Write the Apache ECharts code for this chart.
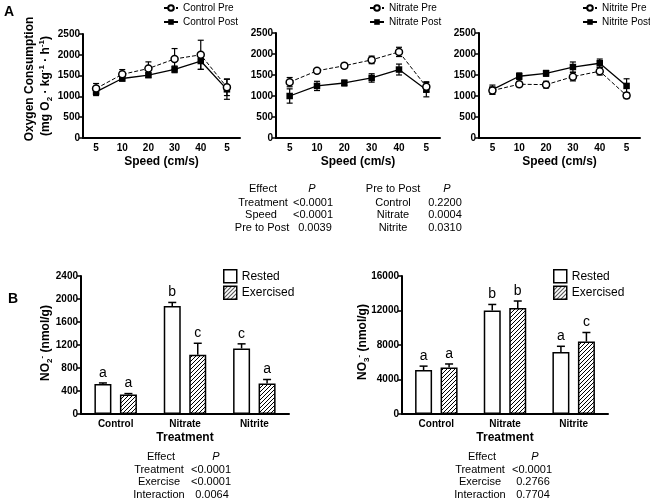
<!DOCTYPE html>
<html><head><meta charset="utf-8">
<script src="https://cdn.jsdelivr.net/npm/echarts@6/dist/echarts.min.js"></script>
<style>html,body{margin:0;padding:0;background:#fff}#c{width:650px;height:501px}</style>
</head><body><div id="c"></div>
<script>
// ---------- DATA ----------
const speeds = ['5','10','20','30','40','5'];
const controlPre = [1190, 1530, 1670, 1900, 2000, 1220];
const controlPreErr = [120, 115, 160, 250, 350, 200];
const controlPost = [1110, 1430, 1510, 1650, 1850, 1170];
const controlPostErr = [90, 60, 50, 80, 200, 240];
const nitratePre = [1330, 1600, 1720, 1860, 2050, 1220];
const nitratePreErr = [110, 40, 60, 90, 110, 120];
const nitratePost = [1000, 1240, 1310, 1430, 1630, 1150];
const nitratePostErr = [170, 110, 70, 100, 130, 170];
const nitritePre = [1130, 1280, 1270, 1460, 1590, 1010];
const nitritePreErr = [80, 60, 80, 100, 90, 70];
const nitritePost = [1150, 1470, 1540, 1690, 1780, 1240];
const nitritePostErr = [110, 80, 70, 120, 100, 170];
const o2Ticks = {min: 0, max: 2500, interval: 500};

const treatments = ['Control', 'Nitrate', 'Nitrite'];
const no2Rested = [520, 1880, 1140];
const no2RestedErr = [20, 60, 80];
const no2Exercised = [340, 1030, 530];
const no2ExercisedErr = [15, 200, 70];
const no2RestedLetters = ['a', 'b', 'c'];
const no2ExercisedLetters = ['a', 'c', 'a'];
const no2Ticks = {min: 0, max: 2400, interval: 400};

const no3Rested = [5100, 12000, 7200];
const no3RestedErr = [450, 700, 650];
const no3Exercised = [5400, 12300, 8400];
const no3ExercisedErr = [400, 800, 1050];
const no3RestedLetters = ['a', 'b', 'a'];
const no3ExercisedLetters = ['a', 'b', 'c'];
const no3Ticks = {min: 0, max: 16000, interval: 4000};

// ---------- STYLE ----------
const FF = 'Liberation Sans, Arial, sans-serif';
const BLACK = '#000';

function hatch() {
  const c = document.createElement('canvas');
  c.width = 4; c.height = 4;
  const g = c.getContext('2d');
  g.fillStyle = '#fff'; g.fillRect(0, 0, 4, 4);
  g.strokeStyle = '#000'; g.lineWidth = 1;
  g.beginPath();
  g.moveTo(0, 4); g.lineTo(4, 0);
  g.moveTo(-1, 1); g.lineTo(1, -1);
  g.moveTo(3, 5); g.lineTo(5, 3);
  g.stroke();
  return c;
}
const hatchPattern = {image: hatch(), repeat: 'repeat'};

const grids = [
  {left: 83, top: 34, width: 157, height: 104},
  {left: 276, top: 33, width: 164, height: 105},
  {left: 479, top: 33, width: 161, height: 105},
  {left: 81, top: 276, width: 208, height: 138},
  {left: 402, top: 276, width: 206, height: 138}
];

function yAx(gi, t) {
  return {type: 'value', gridIndex: gi, min: t.min, max: t.max, interval: t.interval,
    axisLine: {show: true, lineStyle: {color: BLACK, width: 2}},
    axisTick: {show: true, length: 4, lineStyle: {color: BLACK, width: 1.5}},
    axisLabel: {color: BLACK, fontWeight: 'bold', fontSize: 10, margin: 3, fontFamily: FF,
      formatter: function (v) { return String(v); }},
    splitLine: {show: false}};
}
function xAx(gi, data, name) {
  return {type: 'category', gridIndex: gi, data: data,
    axisLine: {lineStyle: {color: BLACK, width: 2}},
    axisTick: {alignWithLabel: true, length: 4, lineStyle: {color: BLACK, width: 1.5}},
    axisLabel: {color: BLACK, fontWeight: 'bold', fontSize: 10, margin: 5, fontFamily: FF},
    name: name, nameLocation: 'middle', nameGap: 18,
    nameTextStyle: {color: BLACK, fontWeight: 'bold', fontSize: 12, fontFamily: FF}};
}

function lineSeries(gi, name, vals, pre) {
  return {type: 'line', name: name, xAxisIndex: gi, yAxisIndex: gi, data: vals,
    symbol: pre ? 'circle' : 'rect', symbolSize: pre ? 7 : 6.5,
    lineStyle: {color: BLACK, width: pre ? 1 : 1.3, type: pre ? [4, 2] : 'solid'},
    itemStyle: pre ? {color: '#fff', borderColor: BLACK, borderWidth: 1.5} : {color: BLACK, borderColor: BLACK, borderWidth: 0},
    z: pre ? 4 : 3, animation: false};
}
function errSeries(gi, vals, errs) {
  return {type: 'custom', xAxisIndex: gi, yAxisIndex: gi, z: 2, clip: false,
    data: vals.map((v, i) => [i, v, errs[i]]),
    encode: {x: 0, y: 1},
    renderItem: function (params, api) {
      const i = api.value(0), v = api.value(1), e = api.value(2);
      const t = api.coord([i, v + e]), b = api.coord([i, v - e]);
      const w = 3, st = {stroke: BLACK, lineWidth: 1.2};
      return {type: 'group', children: [
        {type: 'line', shape: {x1: t[0], y1: t[1], x2: b[0], y2: b[1]}, style: st},
        {type: 'line', shape: {x1: t[0] - w, y1: t[1], x2: t[0] + w, y2: t[1]}, style: st},
        {type: 'line', shape: {x1: b[0] - w, y1: b[1], x2: b[0] + w, y2: b[1]}, style: st}
      ]};
    }};
}

const BAR_W = 17, BAR_OFF = 12.75;
function barSeries(gi, name, vals, exercised) {
  return {type: 'bar', name: name, xAxisIndex: gi, yAxisIndex: gi, data: vals,
    barWidth: BAR_W, barGap: '50%',
    itemStyle: {color: exercised ? hatchPattern : '#fff', borderColor: BLACK, borderWidth: 1.5}};
}
function barErr(gi, vals, errs, letters, side) {
  return {type: 'custom', xAxisIndex: gi, yAxisIndex: gi, z: 5, clip: false,
    data: vals.map((v, i) => [i, v, errs[i]]),
    encode: {x: 0, y: 1},
    renderItem: function (params, api) {
      const i = api.value(0), v = api.value(1), e = api.value(2);
      const b = api.coord([i, v]), t = api.coord([i, v + e]);
      const x = b[0] + side * BAR_OFF, w = 4, st = {stroke: BLACK, lineWidth: 1.5};
      return {type: 'group', children: [
        {type: 'line', shape: {x1: x, y1: b[1], x2: x, y2: t[1]}, style: st},
        {type: 'line', shape: {x1: x - w, y1: t[1], x2: x + w, y2: t[1]}, style: st},
        {type: 'text', x: x, y: t[1] - 3, style: {text: letters[params.dataIndex], fill: BLACK,
          fontSize: 14, fontFamily: FF, align: 'center', verticalAlign: 'bottom'}}
      ]};
    }};
}

function txt(x, y, s, opts) {
  return Object.assign({type: 'text', x: x, y: y, silent: true,
    style: Object.assign({text: s, fill: BLACK, fontSize: 11, fontFamily: FF, align: 'center', verticalAlign: 'middle'}, opts || {})});
}
const richSmall = {
  s: {fontSize: 8, fontWeight: 'bold', fontFamily: FF, verticalAlign: 'bottom', fill: BLACK},
  p: {fontSize: 8, fontWeight: 'bold', fontFamily: FF, verticalAlign: 'top', fill: BLACK}
};
function rotTitle(x, y, s) {
  return {type: 'text', x: x, y: y, rotation: Math.PI / 2, silent: true,
    style: {text: s, rich: richSmall, fill: BLACK, fontSize: 12, fontWeight: 'bold', fontFamily: FF,
      lineHeight: 16, align: 'center', verticalAlign: 'middle'}};
}

const graphics = [
  txt(9, 12, 'A', {fontSize: 14, fontWeight: 'bold'}),
  txt(13, 299, 'B', {fontSize: 14, fontWeight: 'bold'}),
  rotTitle(30, 79, 'Oxygen Consumption'),
  rotTitle(46, 86, '(mg O{s|2} · kg{p|-1} · h{p|-1})'),
  rotTitle(46, 343, 'NO{s|2}{p|-} (nmol/g)'),
  rotTitle(363, 342, 'NO{s|3}{p|-} (nmol/g)'),
  // panel A stats
  txt(263, 189, 'Effect'), txt(312, 189, 'P', {fontStyle: 'italic'}),
  txt(263, 203, 'Treatment'), txt(313, 203, '<0.0001'),
  txt(261, 215, 'Speed'), txt(313, 215, '<0.0001'),
  txt(262, 228, 'Pre to Post'), txt(315, 228, '0.0039'),
  txt(393, 189, 'Pre to Post'), txt(447, 189, 'P', {fontStyle: 'italic'}),
  txt(393, 203, 'Control'), txt(445, 203, '0.2200'),
  txt(393, 215, 'Nitrate'), txt(445, 215, '0.0004'),
  txt(393, 228, 'Nitrite'), txt(445, 228, '0.0310'),
  // panel B left stats
  txt(161, 457, 'Effect'), txt(216, 457, 'P', {fontStyle: 'italic'}),
  txt(159, 470, 'Treatment'), txt(211, 470, '<0.0001'),
  txt(159, 482, 'Exercise'), txt(211, 482, '<0.0001'),
  txt(159, 495, 'Interaction'), txt(212, 495, '0.0064'),
  // panel B right stats
  txt(482, 457, 'Effect'), txt(535, 457, 'P', {fontStyle: 'italic'}),
  txt(480, 470, 'Treatment'), txt(532, 470, '<0.0001'),
  txt(480, 482, 'Exercise'), txt(533, 482, '0.2766'),
  txt(480, 495, 'Interaction'), txt(533, 495, '0.7704')
];

function lineLegend(names, left) {
  return {data: names, left: left, top: 3, orient: 'vertical', padding: 0,
    itemWidth: 14, itemHeight: 7, itemGap: 4, itemTextGap: 5,
    textStyle: {fontSize: 10, color: BLACK, fontFamily: FF}};
}
function barLegend(left) {
  return {data: ['Rested', 'Exercised'], left: left, top: 269, orient: 'vertical', padding: 0,
    icon: 'rect', itemWidth: 13, itemHeight: 13, itemGap: 2, itemTextGap: 4,
    itemStyle: {borderColor: BLACK, borderWidth: 1.5},
    textStyle: {fontSize: 12, color: BLACK, fontFamily: FF}};
}

const option = {
  animation: false,
  backgroundColor: '#fff',
  textStyle: {fontFamily: FF},
  grid: grids,
  xAxis: [xAx(0, speeds, 'Speed (cm/s)'), xAx(1, speeds, 'Speed (cm/s)'), xAx(2, speeds, 'Speed (cm/s)'),
          xAx(3, treatments, 'Treatment'), xAx(4, treatments, 'Treatment')],
  yAxis: [yAx(0, o2Ticks), yAx(1, o2Ticks), yAx(2, o2Ticks), yAx(3, no2Ticks), yAx(4, no3Ticks)],
  legend: [lineLegend(['Control Pre', 'Control Post'], 163),
           lineLegend(['Nitrate Pre', 'Nitrate Post'], 369),
           lineLegend(['Nitrite Pre', 'Nitrite Post'], 582),
           barLegend(223), barLegend(553)],
  series: [
    errSeries(0, controlPre, controlPreErr), errSeries(0, controlPost, controlPostErr),
    lineSeries(0, 'Control Pre', controlPre, true), lineSeries(0, 'Control Post', controlPost, false),
    errSeries(1, nitratePre, nitratePreErr), errSeries(1, nitratePost, nitratePostErr),
    lineSeries(1, 'Nitrate Pre', nitratePre, true), lineSeries(1, 'Nitrate Post', nitratePost, false),
    errSeries(2, nitritePre, nitritePreErr), errSeries(2, nitritePost, nitritePostErr),
    lineSeries(2, 'Nitrite Pre', nitritePre, true), lineSeries(2, 'Nitrite Post', nitritePost, false),
    barSeries(3, 'Rested', no2Rested, false), barSeries(3, 'Exercised', no2Exercised, true),
    barErr(3, no2Rested, no2RestedErr, no2RestedLetters, -1),
    barErr(3, no2Exercised, no2ExercisedErr, no2ExercisedLetters, 1),
    barSeries(4, 'Rested', no3Rested, false), barSeries(4, 'Exercised', no3Exercised, true),
    barErr(4, no3Rested, no3RestedErr, no3RestedLetters, -1),
    barErr(4, no3Exercised, no3ExercisedErr, no3ExercisedLetters, 1)
  ],
  graphic: graphics
};
const chart = echarts.init(document.getElementById('c'), null, {renderer: 'canvas'});
chart.setOption(option);
</script>
</body></html>
